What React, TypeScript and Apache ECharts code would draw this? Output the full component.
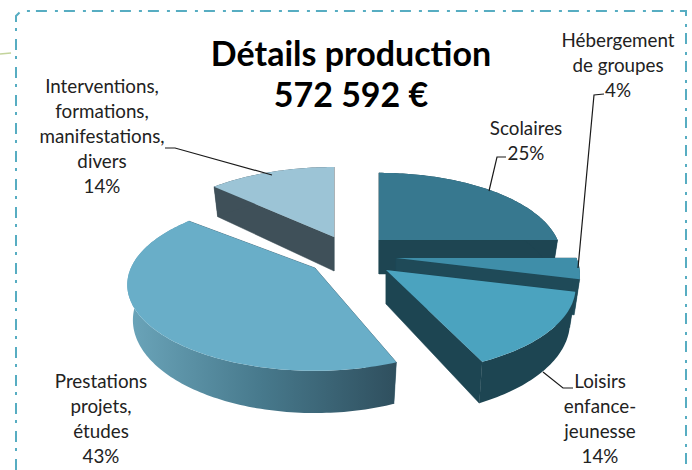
import React, { useEffect, useRef } from "react";
import * as echarts from "echarts";

const categories = ["Scolaires", "Hébergement de groupes", "Loisirs enfance-jeunesse", "Prestations projets, études", "Interventions, formations, manifestations, divers"];
const values = [25, 4, 14, 43, 14];
const titleLines = ["Détails production", "572 592 €"];
const labelLines = [
  ["Scolaires"],
  ["Hébergement", "de groupes"],
  ["Loisirs", "enfance-", "jeunesse"],
  ["Prestations", "projets,", "études"],
  ["Interventions,", "formations,", "manifestations,", "divers"],
];

// Drawing layout, kept apart from the data
const drawOrder = [4, 0, 3, 1, 2];
const apexes = [[379, 240], [396, 258], [386, 270], [315, 268], [334, 237]];
const sliceScale = [0.96, 0.97, 1, 0.99, 1];
const startNudge = [0, 0, 0, 0.07, 0.06];
const topColors = ["#37788f", "#3f8ea9", "#4ba3bf", "#69aec8", "#9cc4d6"];
const wallColors = ["#1e4552", "#1f4a58", "#1d4552", "#2f5566", "#3f5059"];
const labelCenters = [[526, 127], [618, 39], [600, 380], [101, 380], [102, 85]];
const leaders = [
  [[506, 157], [497, 157], [489, 191]],
  [[604, 94], [594, 95], [578, 268]],
  [[573, 388], [563, 388], [543, 372]],
  null,
  [[165, 148], [175, 148], [272, 175]],
];
const RADIUS = 186, TILT = 83.6, PERSP = 0.195, DEPTH = 34, BOTTOM_X = 0.97;

const total = values.reduce((a, b) => a + b, 0);

function project(apex: number[], scale: number, theta: number, r: number, low: boolean) {
  const c = Math.cos(theta) * r;
  const sn = Math.sin(theta) * r;
  const s = 1 / (1 + PERSP * c);
  const xk = low ? BOTTOM_X : 1;
  return [
    apex[0] + sn * RADIUS * scale * s * xk,
    apex[1] - c * TILT * scale * s + (low ? DEPTH * s : 0),
  ];
}

function renderSlice(params: any, api: any) {
  const idx = drawOrder[params.dataIndex];
  const before = values.slice(0, idx).reduce((a, b) => a + b, 0);
  const a0 = (before / total) * Math.PI * 2 + startNudge[idx];
  const a1 = ((before + api.value(0)) / total) * Math.PI * 2;
  const apex = apexes[idx];
  const k = sliceScale[idx];
  const n = Math.max(6, Math.ceil((a1 - a0) / 0.02));
  const topArc: number[][] = [];
  const lowArc: number[][] = [];
  for (let i = 0; i <= n; i++) {
    const t = a0 + ((a1 - a0) * i) / n;
    topArc.push(project(apex, k, t, 1, false));
    lowArc.push(project(apex, k, t, 1, true));
  }
  const apexLow = project(apex, k, 0, 0, true);
  const wall = (i: number) => ({
    type: "polygon",
    shape: { points: [apex, topArc[i], lowArc[i], apexLow] },
    style: { fill: wallColors[idx], stroke: wallColors[idx], lineWidth: 0.5 },
  });
  const rimFill =
    idx === 3
      ? new echarts.graphic.LinearGradient(0, 0, 1, 0, [
          { offset: 0, color: "#6ba5ba" },
          { offset: 0.5, color: "#47798c" },
          { offset: 1, color: "#2f4f5e" },
        ])
      : wallColors[idx];
  return {
    type: "group",
    children: [
      wall(0),
      wall(n),
      {
        type: "polygon",
        shape: { points: [...topArc, ...lowArc.slice().reverse()] },
        style: { fill: rimFill },
      },
      {
        type: "polygon",
        shape: { points: [apex, ...topArc] },
        style: { fill: topColors[idx] },
      },
    ],
  };
}

const FONT = "Lato, 'Open Sans', sans-serif";

export default function App() {
  const ref = useRef<HTMLDivElement>(null);
  useEffect(() => {
    document.body.style.margin = "0";
    const chart = echarts.init(ref.current!, null, { renderer: "svg" });
    const graphics: any[] = [];
    // frame
    const frame = { stroke: "#57adc2", lineWidth: 2, lineDash: [11, 8, 3, 6] };
    graphics.push(
      { type: "polyline", shape: { points: [[16, 470], [16, 16], [21, 11], [686, 11], [686, 470]] }, style: { ...frame, fill: "none" } },
      { type: "line", shape: { x1: 0, y1: 54, x2: 11, y2: 53 }, style: { stroke: "#c3d49b", lineWidth: 1.5 } }
    );
    // title
    titleLines.forEach((t, i) =>
      graphics.push({
        type: "text", x: 351, y: 52 + i * 41,
        style: { text: t, font: `bold 34px ${FONT}`, fill: "#000", textAlign: "center", textVerticalAlign: "middle" },
      })
    );
    // labels
    categories.forEach((_, i) => {
      const pct = `${values[i]}%`;
      const lines = [...labelLines[i], pct];
      lines.forEach((line, j) =>
        graphics.push({
          type: "text", x: labelCenters[i][0], y: labelCenters[i][1] + j * 25.2,
          style: { text: line, font: `18.8px ${FONT}`, fill: "#222", textAlign: "center", textVerticalAlign: "middle" },
        })
      );
      const l = leaders[i];
      if (l) graphics.push({ type: "polyline", z: 5, shape: { points: l }, style: { stroke: "#1a1a1a", lineWidth: 1.2, fill: "none" } });
    });
    chart.setOption({
      animation: false,
      backgroundColor: "#fff",
      tooltip: { show: false },
      graphic: { elements: graphics },
      series: [
        {
          type: "custom",
          coordinateSystem: "none",
          renderItem: renderSlice,
          silent: true,
          z: 2,
          data: drawOrder.map((i) => ({ name: categories[i], value: [values[i]] })),
        },
      ],
    });
    return () => chart.dispose();
  }, []);
  return <div ref={ref} style={{ width: 692, height: 470 }} />;
}
